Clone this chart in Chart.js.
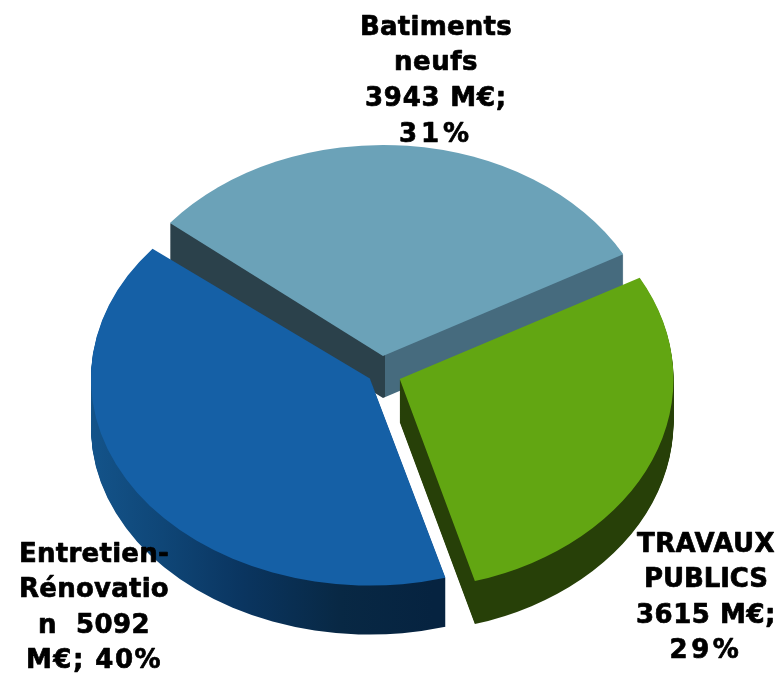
<!DOCTYPE html>
<html>
<head>
<meta charset="utf-8">
<style>
  html, body { margin: 0; padding: 0; background: #fff; }
  #wrap { width: 782px; height: 673px; }
</style>
<script src="https://cdn.jsdelivr.net/npm/chart.js@4"></script>
</head>
<body>
<div id="wrap"><canvas id="chart"></canvas></div>
<script>
// valeurs en M€
const categories = ['Batiments neufs', 'TRAVAUX PUBLICS', 'Entretien-Rénovation'];
const values = [3943, 3615, 5092];
const colors = ['#6BA2B8', '#62A612', '#1560A6'];
// retours a la ligne comme sur l'image
const labelLines = [
    ['Batiments', 'neufs', '3943 M€;', '31%'],
    ['TRAVAUX', 'PUBLICS', '3615 M€;', '29%'],
    ['Entretien-', 'Rénovatio', 'n  5092', 'M€; 40%']
];

// perspective : chaque part a son propre ecrasement
const SCALE_X = [0.988, 0.99, 0.99];
const SCALE_Y = [0.76, 0.76, 0.735];
const DEPTHS = [42, 43, 49];
const LABEL_POS = [
    { x: 436, y: [35, 70, 106, 142], w: [152, 84, 142, 74] },
    { x: 706, y: [552, 587, 623, 658], w: [138, 124, 140, 73] },
    { x: 94, y: [562, 597, 633, 668], w: [150, 150, 112, 136] }
];

function squash(ctx, arc, i) {
    ctx.translate(arc.x, arc.y);
    ctx.scale(SCALE_X[i], SCALE_Y[i]);
    ctx.translate(-arc.x, -arc.y);
}

function wallFill(ctx, i) {
    const g = ctx.createLinearGradient(90, 0, 670, 0);
    if (i === 0) {
        // deux faces : arete a x=383
        const stop = (383 - 90) / 580;
        g.addColorStop(0, '#2B414B');
        g.addColorStop(stop, '#2B414B');
        g.addColorStop(stop, '#466B7E');
        g.addColorStop(1, '#466B7E');
    } else if (i === 1) {
        g.addColorStop(0, '#274008');
        g.addColorStop(1, '#274008');
    } else {
        g.addColorStop(0, '#14558C');
        g.addColorStop(0.14, '#0F4677');
        g.addColorStop(0.28, '#0A3560');
        g.addColorStop(0.45, '#082844');
        g.addColorStop(0.61, '#062340');
        g.addColorStop(1, '#062340');
    }
    return g;
}

const pie3d = {
    id: 'pie3d',
    beforeDatasetDraw(chart, args) {
        const ctx = chart.ctx;
        const arcs = args.meta.data;
        // parois : meme arc redessine en descendant
        arcs.forEach((arc, i) => {
            const saved = arc.options;
            arc.options = {
                backgroundColor: wallFill(ctx, i),
                borderColor: 'transparent',
                borderWidth: 0,
                borderAlign: saved.borderAlign,
                borderJoinStyle: saved.borderJoinStyle,
                borderRadius: saved.borderRadius,
                circular: saved.circular,
                offset: saved.offset,
                spacing: saved.spacing
            };
            for (let d = DEPTHS[i]; d >= 1; d--) {
                ctx.save();
                ctx.translate(0, d);
                squash(ctx, arc, i);
                arc.draw(ctx);
                ctx.restore();
            }
            arc.options = saved;
        });
        // faces du dessus
        arcs.forEach((arc, i) => {
            ctx.save();
            squash(ctx, arc, i);
            arc.draw(ctx);
            ctx.restore();
        });
        return false;
    },
    afterDatasetsDraw(chart) {
        const ctx = chart.ctx;
        ctx.save();
        ctx.fillStyle = '#000';
        ctx.strokeStyle = '#000';
        ctx.lineWidth = 0.7;
        ctx.lineJoin = 'round';
        ctx.font = 'bold 26px "DejaVu Sans"';
        ctx.textAlign = 'center';
        ctx.textBaseline = 'alphabetic';
        labelLines.forEach((lines, i) => {
            lines.forEach((line, j) => {
                // le % de l'original est plus large : on ajuste l'approche
                ctx.letterSpacing = '0px';
                const extra = (LABEL_POS[i].w[j] - ctx.measureText(line).width) / line.length;
                ctx.letterSpacing = extra.toFixed(2) + 'px';
                ctx.fillText(line, LABEL_POS[i].x, LABEL_POS[i].y[j]);
                ctx.strokeText(line, LABEL_POS[i].x, LABEL_POS[i].y[j]);
            });
        });
        ctx.restore();
    }
};

new Chart(document.getElementById('chart'), {
    type: 'pie',
    data: {
        labels: categories,
        datasets: [{
            data: values,
            backgroundColor: colors,
            borderWidth: 0,
            offset: [90, 82, 54],
            clip: false
        }]
    },
    options: {
        responsive: true,
        maintainAspectRatio: false,
        animation: false,
        rotation: -51,
        radius: 276,
        layout: { padding: { left: 0, right: 20, top: 73, bottom: 0 } },
        plugins: {
            legend: { display: false },
            tooltip: { enabled: false }
        }
    },
    plugins: [pie3d]
});
</script>
</body>
</html>
